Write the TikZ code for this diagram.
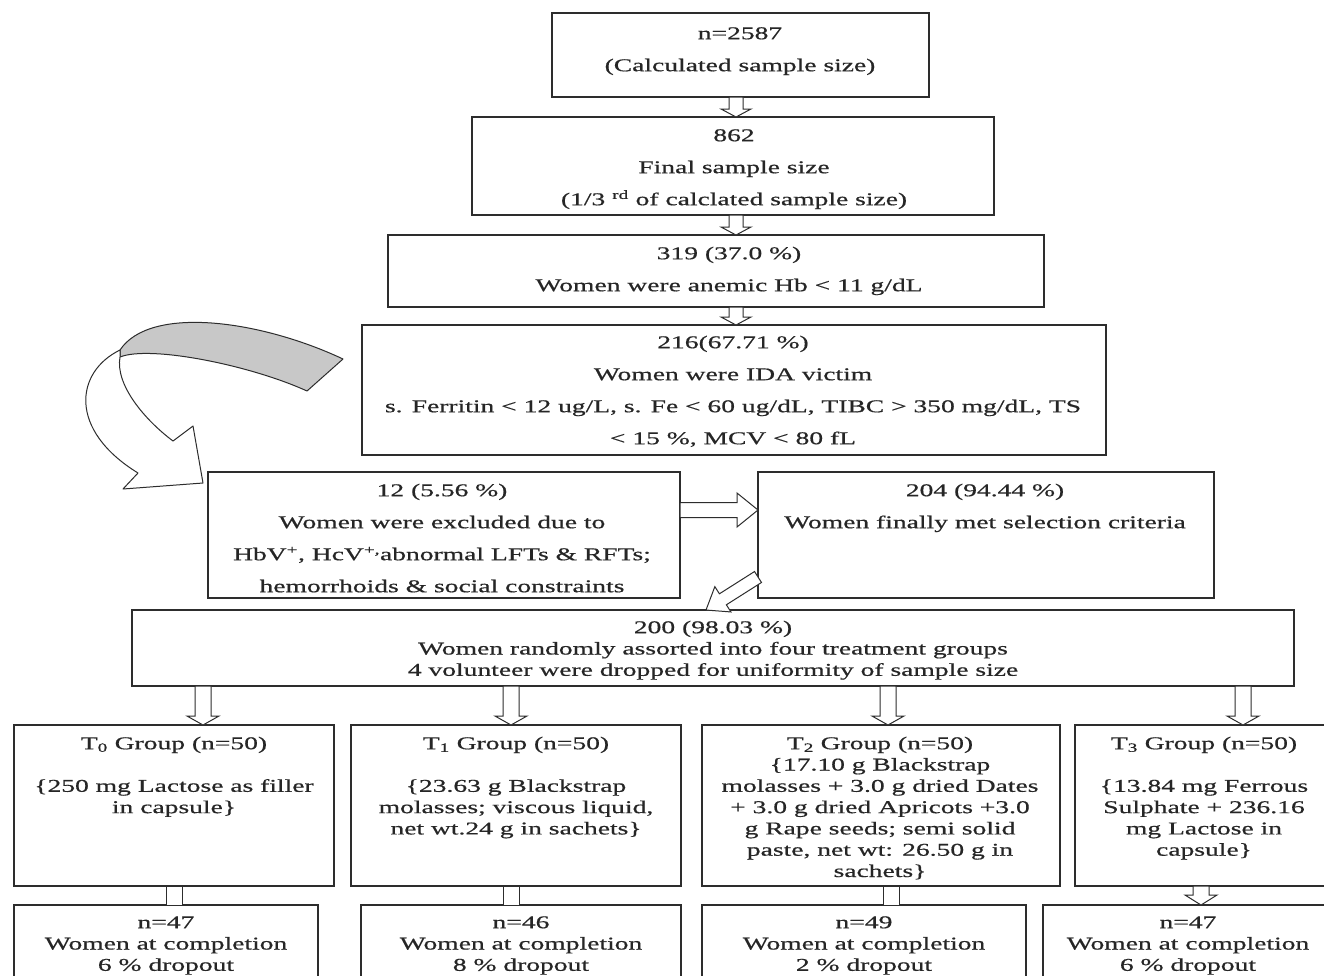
\documentclass[tikz,border=0pt]{standalone}
\usepackage{fontspec}
\setmainfont{Liberation Serif}[FakeStretch=1.53,FakeBold=0.6]
\usetikzlibrary{calc}
\definecolor{linegray}{RGB}{45,45,45}
\definecolor{ribbongray}{RGB}{200,200,200}
\newcommand\firstl{\rule{0pt}{13pt}}
\newcommand\bx[5]{\node[box, minimum width={(#4-#2)*1pt}, minimum height={(#5-#3)*1pt}] (#1) at (#2,#3) {};}
\newcommand\barrow[5]{%
  \coordinate (hb) at ($(#2)!#5pt!(#1)$);
  \draw[arr] ($(#1)!#3pt!90:(#2)$) -- ($(hb)!#3pt!90:(#2)$) -- ($(hb)!#4pt!90:(#2)$) -- (#2)
    -- ($(hb)!#4pt!-90:(#2)$) -- ($(hb)!#3pt!-90:(#2)$) -- ($(#1)!#3pt!-90:(#2)$) -- cycle;}
\tikzset{
  box/.style={draw=linegray, line width=1.2pt, rectangle, inner sep=0pt, outer sep=0pt, anchor=north west},
  txt/.style={anchor=north, inner sep=0pt, align=center, text=black!85, font=\fontsize{18}{32}\selectfont},
  txts/.style={anchor=north, inner sep=0pt, align=center, text=black!85, font=\fontsize{18}{21.3}\selectfont},
  arr/.style={draw=linegray, line width=1pt, fill=white, line join=miter},
  ribbon/.style={draw=linegray, line width=1pt, line join=round},
}
\begin{document}
\begin{tikzpicture}[x=1pt,y=-1pt]
\useasboundingbox (0,0) rectangle (1324,975);
\fill[white] (0,0) rectangle (1324,975);
\clip (0,0) rectangle (1324,975);

% boxes
\bx{A}{552}{13}{929}{97}
\bx{B}{472}{117}{994}{215}
\bx{C}{388}{235}{1044}{307}
\bx{D}{362}{325}{1106}{455}
\bx{E}{208}{472}{680}{598}
\bx{F}{758}{472}{1214}{598}
\bx{G}{132}{610}{1294}{686}
\bx{T0}{14}{725}{334}{886}
\bx{T1}{351}{725}{681}{886}
\bx{T2}{702}{725}{1060}{886}
\bx{T3}{1075}{725}{1333}{886}
\bx{B0}{14}{905}{318}{995}
\bx{B1}{361}{905}{681}{995}
\bx{B2}{702}{905}{1026}{995}
\bx{B3}{1043}{905}{1333}{995}

% texts
\node[txt] (At) at (740,26) {\firstl n=2587\\(Calculated sample size)};
\node[txt] (Bt) at (734,128) {\firstl 862\\Final sample size\\(1/3 \textsuperscript{rd} of calclated sample size)};
\node[txt] (Ct) at (729,246) {\firstl 319 (37.0 \%)\\Women were anemic Hb < 11 g/dL};
\node[txt] (Dt) at (733,335) {\firstl 216(67.71 \%)\\Women were IDA victim\\s. Ferritin < 12 ug/L, s. Fe < 60 ug/dL, TIBC > 350 mg/dL, TS\\< 15 \%, MCV < 80 fL};
\node[txt] (Et) at (442,483) {\firstl 12 (5.56 \%)\\Women were excluded due to\\HbV\textsuperscript{+}, HcV\textsuperscript{+,}abnormal LFTs \& RFTs;\\hemorrhoids \& social constraints};
\node[txt] (Ft) at (985,483) {\firstl 204 (94.44 \%)\\Women finally met selection criteria};
\node[txts] (Gt) at (713,620) {\firstl 200 (98.03 \%)\\Women randomly assorted into four treatment groups\\4 volunteer were dropped for uniformity of sample size};
\node[txts] (T0t) at (174,736) {\firstl T\textsubscript{0} Group (n=50)\\[21.3pt]\{250 mg Lactose as filler\\in capsule\}};
\node[txts] (T1t) at (516,736) {\firstl T\textsubscript{1} Group (n=50)\\[21.3pt]\{23.63 g Blackstrap\\molasses; viscous liquid,\\net wt.24 g in sachets\}};
\node[txts] (T2t) at (880,736) {\firstl T\textsubscript{2} Group (n=50)\\\{17.10 g Blackstrap\\molasses + 3.0 g dried Dates\\+ 3.0 g dried Apricots +3.0\\g Rape seeds; semi solid\\paste, net wt: 26.50 g in\\sachets\}};
\node[txts] (T3t) at (1204,736) {\firstl T\textsubscript{3} Group (n=50)\\[21.3pt]\{13.84 mg Ferrous\\Sulphate + 236.16\\mg Lactose in\\capsule\}};
\node[txts] (B0t) at (166,915) {\firstl n=47\\Women at completion\\6 \% dropout};
\node[txts] (B1t) at (521,915) {\firstl n=46\\Women at completion\\8 \% dropout};
\node[txts] (B2t) at (864,915) {\firstl n=49\\Women at completion\\2 \% dropout};
\node[txts] (B3t) at (1188,915) {\firstl n=47\\Women at completion\\6 \% dropout};

% vertical arrows in the top column
\coordinate (xa) at (736,0);
\coordinate (ab1) at (A.south -| xa); \coordinate (ab2) at (B.north -| xa);
\coordinate (bc1) at (B.south -| xa); \coordinate (bc2) at (C.north -| xa);
\coordinate (cd1) at (C.south -| xa); \coordinate (cd2) at (D.north -| xa);
\barrow{ab1}{ab2}{7}{15}{8}
\barrow{bc1}{bc2}{7}{15}{8}
\barrow{cd1}{cd2}{7}{15}{8}

% E -> F
\coordinate (ye) at (0,510);
\coordinate (ef1) at (E.east |- ye); \coordinate (ef2) at (F.west |- ye);
\barrow{ef1}{ef2}{7.5}{17}{21}

% F -> G (diagonal)
\coordinate (yf) at (0,577); \coordinate (xg) at (706,0);
\coordinate (fg1) at (F.west |- yf); \coordinate (fg2) at (G.north -| xg);
\barrow{fg1}{fg2}{6.5}{15}{20}

% G -> T boxes
\foreach \n/\xx in {0/203,1/511,2/888,3/1243}{
  \coordinate (xt\n) at (\xx,0);
  \coordinate (gt\n a) at (G.south -| xt\n);
  \coordinate (gt\n b) at (T\n.north -| xt\n);
  \barrow{gt\n a}{gt\n b}{8}{16}{9}
}

% T -> bottom boxes
\foreach \n/\xx in {0/174,1/511,2/891}{
  \coordinate (xs\n) at (\xx,0);
  \coordinate (tb\n a) at (T\n.south -| xs\n);
  \coordinate (tb\n b) at (B\n.north -| xs\n);
  \draw[arr] ($(tb\n a)+(-8,0)$) rectangle ($(tb\n b)+(8,0)$);
}
\coordinate (xs3) at (1201,0);
\coordinate (tb3a) at (T3.south -| xs3); \coordinate (tb3b) at (B3.north -| xs3);
\barrow{tb3a}{tb3b}{8}{16}{10}

% curved ribbon arrow from D to E
\draw[ribbon, fill=ribbongray] (343,359) .. controls (260,320) and (150,305) .. (120,350)
  -- (120,357) .. controls (150,345) and (250,365) .. (307,391) -- cycle;
\draw[ribbon, fill=white] (120,350) .. controls (75,372) and (68,430) .. (138,473)
  -- (123,489) -- (203,483) -- (193,426) -- (173,441)
  .. controls (145,420) and (115,385) .. (120,357) -- cycle;
\end{tikzpicture}
\end{document}
